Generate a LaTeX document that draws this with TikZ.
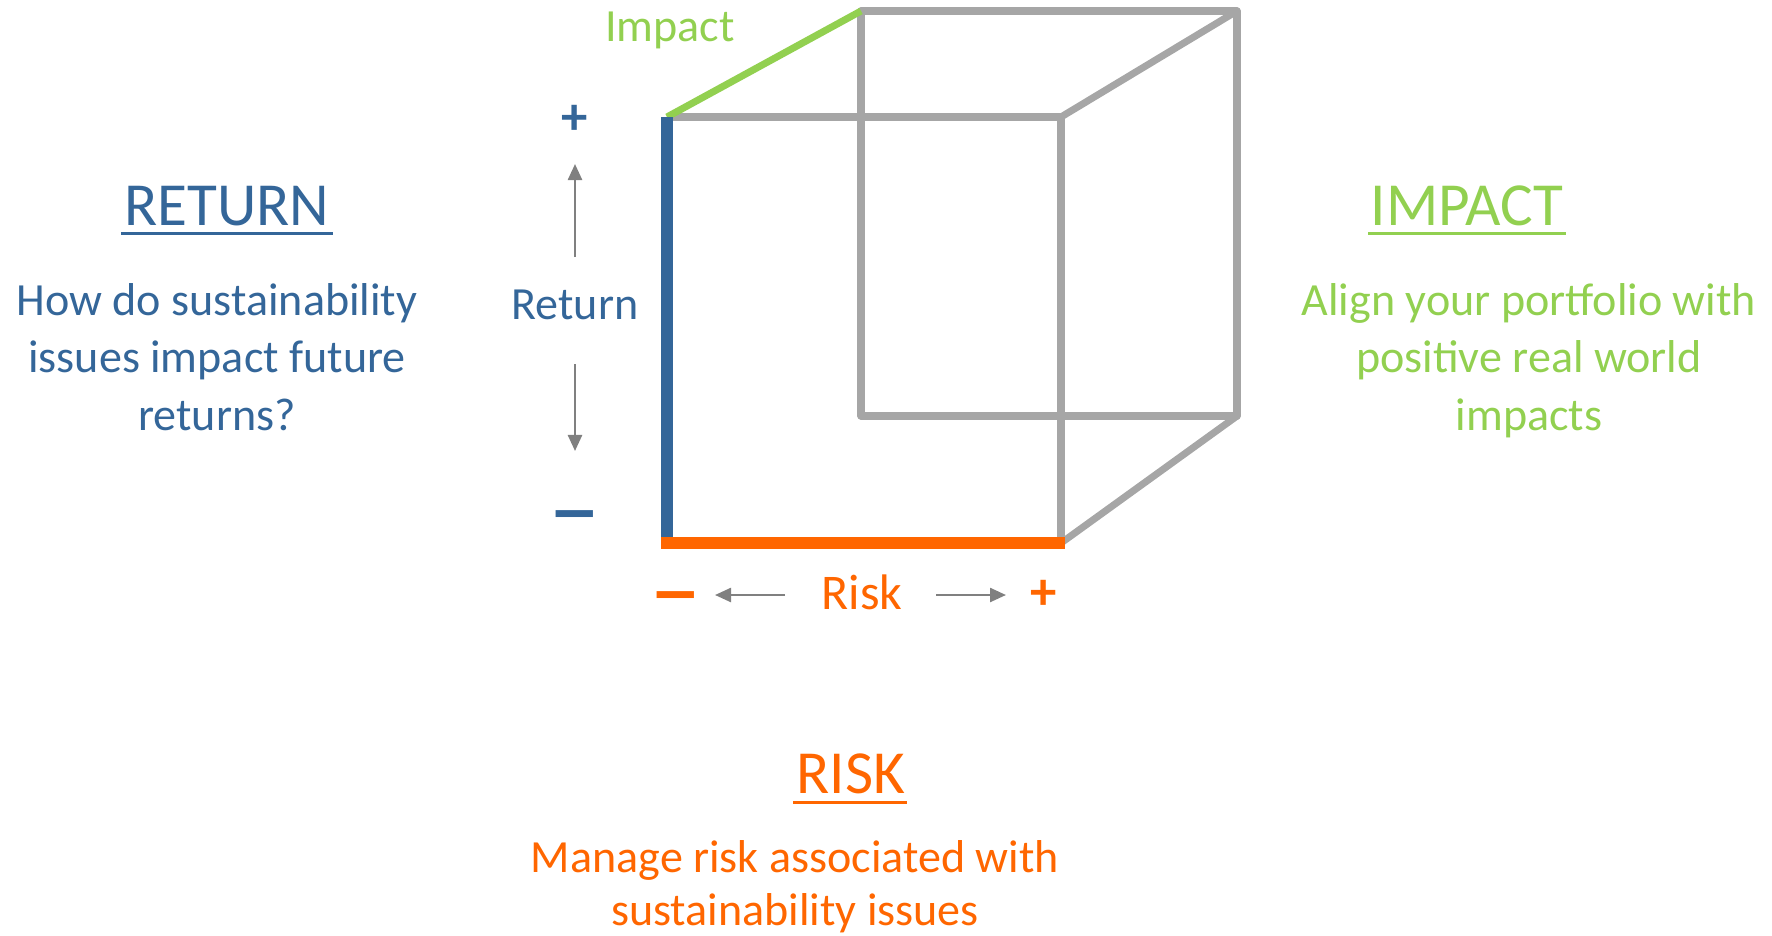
\documentclass[tikz,border=0pt]{standalone}
\usepackage{fontspec}
\setmainfont{Carlito}
\usepackage{graphicx}
\usetikzlibrary{arrows.meta,positioning}

\definecolor{retblue}{RGB}{52,102,153}
\definecolor{impgreen}{RGB}{146,208,80}
\definecolor{riskorange}{RGB}{255,102,0}
\definecolor{cubegray}{RGB}{166,166,166}
\definecolor{arrgray}{RGB}{128,128,128}

\newcommand{\bodysize}{\fontsize{13.1pt}{16.3pt}\selectfont}
\newcommand{\headsize}{\fontsize{17.4pt}{20pt}\selectfont}

\begin{document}
\begin{tikzpicture}[x=0.01cm, y=-0.01cm, font=\bodysize,
  edge/.style={cubegray, line width=2pt},
  axis/.style={line width=3.4pt},
  head/.style={font=\headsize, anchor=base, inner sep=0pt},
  body/.style={align=center, anchor=base, inner sep=0pt},
  lbl/.style={anchor=base, inner sep=0pt},
  sign/.style={font=\fontsize{15pt}{15pt}\selectfont\bfseries, inner sep=0pt},
  hint/.style={->, arrgray, line width=0.7pt},
  >={Triangle[length=1.6mm, width=1.4mm]}]
\useasboundingbox (0,0) rectangle (1772,936);

% corners of the cube
\coordinate (ftl) at (667,117);
\coordinate (ftr) at (1061,117);
\coordinate (fbr) at (1061,543);
\coordinate (fbl) at (667,543);
\coordinate (btl) at (861,11);
\coordinate (btr) at (1237,11);
\coordinate (bbr) at (1237,416);
\coordinate (bbl) at (861,416);

\draw[edge, line join=round] (btl) rectangle (bbr);
\draw[edge] (ftr) -- (btr);
\draw[edge] (fbr) -- (bbr);
\draw[edge] (ftl) -- (ftr) -- (fbr);
% the three axes
\draw[impgreen, line width=2pt] (ftl) -- (btl);
\draw[retblue, axis] (ftl) -- (fbl);
\draw[riskorange, axis] ([xshift=-0.06cm]fbl) -- ([xshift=0.04cm]fbr);

% axis labels
\node[lbl, impgreen] (implbl) at (670,41) {Impact};
\node[sign, retblue] (rplus) at (575,120) {+};
\node[lbl, retblue] (retlbl) at (575,319) {Return};
\node[sign, retblue] (rminus) at (575,524) {\scalebox{2.0}[1.5]{–}};
\coordinate (rupa) at (575,257);
\coordinate (rupb) at (575,164);
\coordinate (rdna) at (575,364);
\coordinate (rdnb) at (575,451);
\draw[hint] (rupa) -- (rupb);
\draw[hint] (rdna) -- (rdnb);

\node[sign, riskorange] (kminus) at (676,605) {\scalebox{2.0}[1.5]{–}};
\node[lbl, riskorange, font=\fontsize{14.2pt}{17pt}\selectfont] (risklbl) at (862,609) {Risk};
\node[sign, riskorange] (kplus) at (1044,595) {+};
\coordinate (klfa) at (785,595);
\coordinate (klfb) at (715,595);
\coordinate (krta) at (936,595);
\coordinate (krtb) at (1006,595);
\draw[hint] (klfa) -- (klfb);
\draw[hint] (krta) -- (krtb);

% headings and their questions
\node[head, retblue] (rettitle) at (227,225) {RETURN};
\draw[retblue, line width=0.85pt] ([shift={(-0.03cm,-0.08cm)}]rettitle.base west) -- ([shift={(0.03cm,-0.08cm)}]rettitle.base east);
\node[body, retblue] (retbody) at (217,430) {How do sustainability\\issues impact future\\returns?};

\node[head, impgreen] (imptitle) at (1467,225) {IMPACT};
\draw[impgreen, line width=0.85pt] ([shift={(-0.02cm,-0.08cm)}]imptitle.base west) -- ([shift={(0.02cm,-0.08cm)}]imptitle.base east);
\node[body, impgreen] (impbody) at (1529,430) {Align your portfolio with\\positive real world\\impacts};

\node[head, riskorange] (risktitle) at (851,793) {RISK};
\draw[riskorange, line width=0.85pt] ([shift={(-0.03cm,-0.09cm)}]risktitle.base west) -- ([shift={(0.01cm,-0.09cm)}]risktitle.base east);
\node[body, riskorange, font=\fontsize{13.1pt}{15pt}\selectfont] (riskbody) at (795,925) {Manage risk associated with\\sustainability issues};
\end{tikzpicture}
\end{document}
